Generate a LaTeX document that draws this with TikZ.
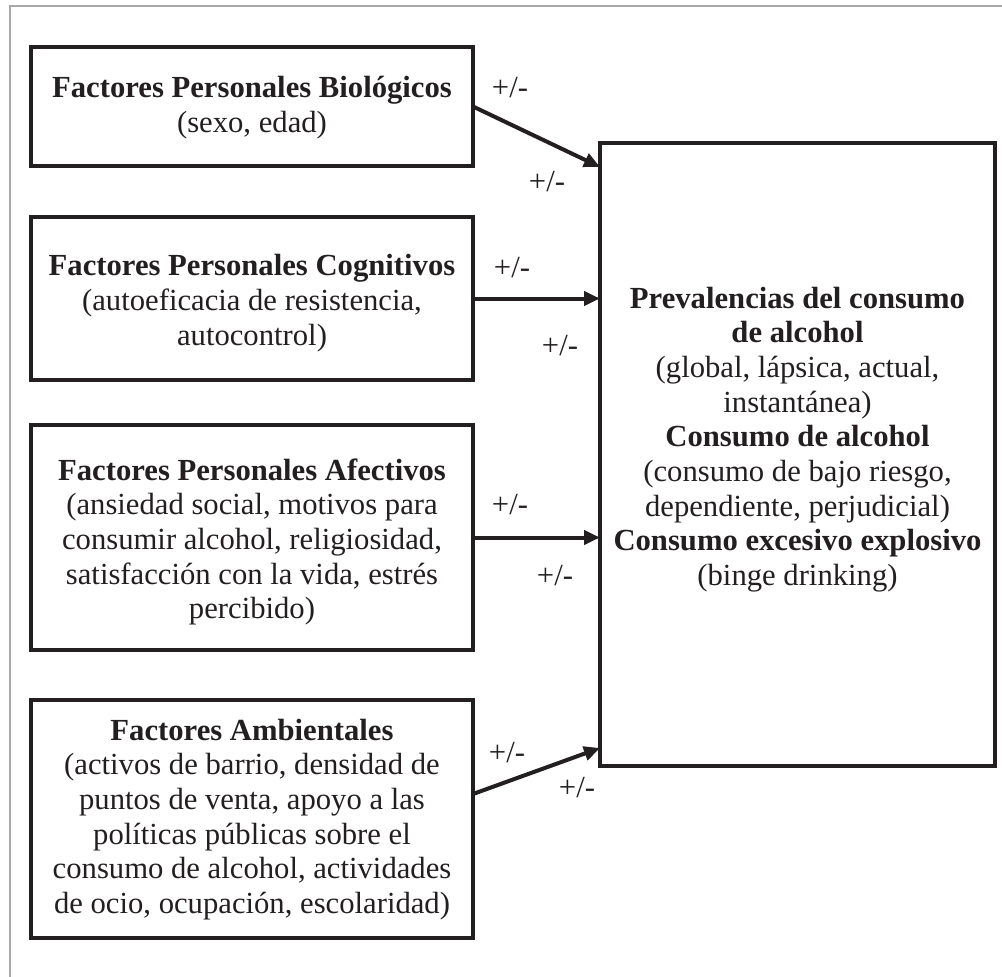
\documentclass[tikz,border=0pt]{standalone}
\usepackage{fontspec}
\setmainfont{Liberation Serif}
\usetikzlibrary{arrows.meta,calc}
\definecolor{ink}{HTML}{231F20}
\definecolor{framegray}{HTML}{A8A8A8}
\begin{document}
\begin{tikzpicture}[x=0.75pt,y=-0.75pt,
  box/.style={draw=ink,line width=3pt,inner sep=0pt,outer sep=0pt},
  txt/.style={align=center,font=\fontsize{23}{26}\selectfont,text=ink,inner sep=0pt},
  pm/.style={font=\fontsize{23}{26}\selectfont,text=ink,inner sep=0pt},
  link/.style={draw=ink,line width=3pt,-{Triangle[length=12pt,width=10.5pt]}}]
\useasboundingbox (0,0) rectangle (1002,977);
\fill[white] (0,0) rectangle (1002,977);
\draw[framegray,line width=1.2pt] (10,977) -- (10,6) -- (1002,6);

% boxes
\node[box,minimum width=331.5pt,minimum height=89.25pt] (b1) at (252,106.5) {};
\node[box,minimum width=331.5pt,minimum height=122.25pt] (b2) at (252,298.5) {};
\node[box,minimum width=331.5pt,minimum height=168.75pt] (b3) at (252,537.5) {};
\node[box,minimum width=331.5pt,minimum height=178.5pt] (b4) at (252,819) {};
\node[box,minimum width=296.25pt,minimum height=467.25pt] (r) at (797.5,454.5) {};

% texts
\node[txt] (t1) at (252,107.5) {\textbf{Factores Personales Biológicos}\\(sexo, edad)};
\node[txt] (t2) at (252,303) {\textbf{Factores Personales Cognitivos}\\(autoeficacia de resistencia,\\autocontrol)};
\node[txt] (t3) at (252,542) {\textbf{Factores Personales Afectivos}\\(ansiedad social, motivos para\\consumir alcohol, religiosidad,\\satisfacción con la vida, estrés\\percibido)};
\node[txt] (t4) at (252,819.5) {\textbf{Factores Ambientales}\\(activos de barrio, densidad de\\puntos de venta, apoyo a las\\políticas públicas sobre el\\consumo de alcohol, actividades\\de ocio, ocupación, escolaridad)};
\node[txt] (rt) at (797.5,439.5) {\textbf{Prevalencias del consumo}\\\textbf{de alcohol}\\(global, lápsica, actual,\\instantánea)\\\textbf{Consumo de alcohol}\\(consumo de bajo riesgo,\\dependiente, perjudicial)\\\textbf{Consumo excesivo explosivo}\\(binge drinking)};

% connector end points
\coordinate (s4) at ($(b4.east)+(0,-25)$);
\coordinate (e1) at ($(r.north west)+(0,24)$);
\coordinate (e4) at ($(r.south west)+(0,-18)$);

\draw[link] (b1.east) -- (e1);
\draw[link] (b2.east) -- (r.west |- b2.east);
\draw[link] (b3.east) -- (r.west |- b3.east);
\draw[link] (s4) -- (e4);

% labels
\node[pm] (l1a) at (510,88) {+/-};
\node[pm] (l1b) at (547,182) {+/-};
\node[pm] (l2a) at (512,268) {+/-};
\node[pm] (l2b) at (560,346) {+/-};
\node[pm] (l3a) at (510,505) {+/-};
\node[pm] (l3b) at (555,576) {+/-};
\node[pm] (l4a) at (507,753) {+/-};
\node[pm] (l4b) at (577,788) {+/-};
\end{tikzpicture}
\end{document}
